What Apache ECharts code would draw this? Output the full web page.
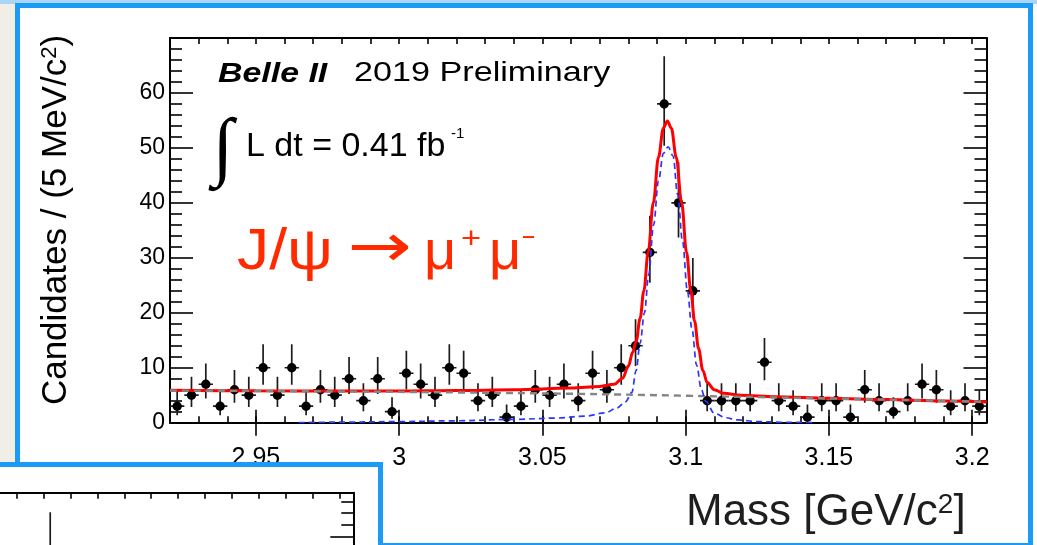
<!DOCTYPE html>
<html>
<head>
<meta charset="utf-8">
<title>Belle II J/psi to mu mu</title>
<script src="https://cdn.jsdelivr.net/npm/echarts@6/dist/echarts.min.js"></script>
<style>
  html, body { margin: 0; padding: 0; width: 1037px; height: 545px; overflow: hidden; background: #f1eee8; }
  #topband { position: absolute; left: 0; top: 0; width: 1037px; height: 4px; background: #a9d6f7; }
  #rightstrip { position: absolute; left: 1033px; top: 4px; width: 4px; height: 541px; background: #fbfbfb; }
  #frame { position: absolute; left: 15px; top: 3px; width: 1018px; height: 545px; box-sizing: border-box;
           border: 5px solid #1b9bf6; background: #ffffff; }
  #main { position: absolute; left: 0; top: 0; width: 1037px; height: 545px; }
  #panel { position: absolute; left: -10px; top: 462px; width: 393px; height: 110px; box-sizing: border-box;
           border: 5px solid #1b9bf6; background: #ffffff; overflow: hidden; }
  #panelChart { position: absolute; left: -445px; top: 0; width: 828px; height: 400px; }
</style>
</head>
<body>
<div id="topband"></div>
<div id="rightstrip"></div>
<div id="frame"></div>
<div id="main"></div>
<div id="panel"><div id="panelChart"></div></div>
<script>
// ---- dimuon invariant mass, 5 MeV/c^2 bins ----
const binCenters = [
  2.9225, 2.9275, 2.9325, 2.9375, 2.9425, 2.9475, 2.9525, 2.9575, 2.9625, 2.9675,
  2.9725, 2.9775, 2.9825, 2.9875, 2.9925, 2.9975, 3.0025, 3.0075, 3.0125, 3.0175,
  3.0225, 3.0275, 3.0325, 3.0375, 3.0425, 3.0475, 3.0525, 3.0575, 3.0625, 3.0675,
  3.0725, 3.0775, 3.0825, 3.0875, 3.0925, 3.0975, 3.1025, 3.1075, 3.1125, 3.1175,
  3.1225, 3.1275, 3.1325, 3.1375, 3.1425, 3.1475, 3.1525, 3.1575, 3.1625, 3.1675,
  3.1725, 3.1775, 3.1825, 3.1875, 3.1925, 3.1975, 3.2025
];
const candidates = [
  3, 5, 7, 3, 6, 5, 10, 5, 10, 3,
  6, 5, 8, 4, 8, 2, 9, 7, 5, 10,
  9, 4, 5, 1, 3, 6, 5, 7, 4, 9,
  6, 10, 14, 31, 58, 40, 24, 4, 4, 4,
  4, 11, 4, 3, 1, 4, 4, 1, 6, 4,
  2, 4, 7, 6, 3, 4, 3
];
const binHalfWidth = 0.0025;

// Poisson 68.3% central intervals for the bin contents that occur
const poissonN    = [1, 2, 3, 4, 5, 6, 7, 8, 9, 10, 11, 14, 24, 31, 40, 58];
const poissonLow  = [0.173, 0.708, 1.367, 2.086, 2.840, 3.620, 4.419, 5.232, 6.057, 6.891, 7.734, 10.30, 19.14, 25.47, 33.70, 50.41];
const poissonHigh = [3.300, 4.638, 5.918, 7.163, 8.382, 9.584, 10.77, 11.95, 13.11, 14.27, 15.42, 18.83, 29.97, 37.64, 47.38, 66.67];

// fitted model: total, signal and background components
const totalX = [2.92, 2.95, 2.98, 3.00, 3.02, 3.04, 3.06, 3.07, 3.075, 3.078, 3.080, 3.0815, 3.0827, 3.0841,
  3.0854, 3.0869, 3.0887, 3.0905, 3.0922, 3.0936, 3.095, 3.0967, 3.0986, 3.1003, 3.1018, 3.1031, 3.1045,
  3.106, 3.1075, 3.110, 3.1132, 3.1193, 3.1313, 3.15, 3.17, 3.19, 3.205];
const totalY = [5.9, 5.8, 5.75, 5.75, 5.85, 6.0, 6.3, 6.6, 7.0, 8.1, 10.3, 12.8, 14.8, 19.0,
  24.0, 31.0, 40.0, 48.3, 53.6, 54.9, 53.6, 48.3, 40.0, 31.0, 24.0, 18.5, 13.5,
  9.5, 7.3, 6.0, 5.35, 5.0, 4.7, 4.45, 4.2, 3.95, 3.75];
const signalX = [2.965, 2.98, 3.00, 3.02, 3.04, 3.055, 3.065, 3.072, 3.076, 3.079, 3.0812, 3.0827, 3.0841,
  3.0856, 3.0871, 3.0888, 3.0905, 3.0922, 3.0939, 3.0956, 3.0972, 3.0989, 3.1006, 3.1022, 3.1038,
  3.1055, 3.107, 3.110, 3.114, 3.118, 3.125, 3.135, 3.145];
const signalY = [0.02, 0.1, 0.2, 0.35, 0.6, 0.85, 1.2, 1.8, 2.7, 3.8, 5.5, 9.5, 14.5,
  20, 27, 36, 44, 49, 50.2, 48.5, 41.5, 33, 24, 17, 10.5,
  6, 3.9, 1.7, 0.9, 0.5, 0.2, 0.07, 0.02];
const backgroundX = [2.92, 2.96, 3.00, 3.04, 3.08, 3.12, 3.16, 3.205];
const backgroundY = [5.85, 5.75, 5.6, 5.4, 5.1, 4.7, 4.3, 3.8];

// axis ticks and labels
const xMinorTicks = [2.92, 2.93, 2.94, 2.95, 2.96, 2.97, 2.98, 2.99, 3.00, 3.01, 3.02, 3.03, 3.04, 3.05,
  3.06, 3.07, 3.08, 3.09, 3.10, 3.11, 3.12, 3.13, 3.14, 3.15, 3.16, 3.17, 3.18, 3.19, 3.20];
const xMajorTicks = [2.95, 3.00, 3.05, 3.10, 3.15, 3.20];
const xTickLabels = [2.95, 3.00, 3.05, 3.10, 3.15, 3.20];
const yTickLabels = [0, 10, 20, 30, 40, 50, 60];

// second mass panel (partly covered), only its peak bin reaches the visible strip
const panelCenters = [3.0925];
const panelCandidates = [37];
const panelLow = [30.95];
const panelHigh = [44.14];

const FONT = '"Liberation Sans", Arial, Helvetica, sans-serif';
const RED = '#ff2a00';

function errorRows(xs, ns, lows, highs) {
  return xs.map((x, i) => [x, ns[i], lows[i], highs[i]]);
}
const mainRows = errorRows(
  binCenters, candidates,
  candidates.map(n => poissonLow[poissonN.indexOf(n)]),
  candidates.map(n => poissonHigh[poissonN.indexOf(n)])
);

function renderPoint(params, api) {
  const x = api.value(0), n = api.value(1), lo = api.value(2), hi = api.value(3);
  const p = api.coord([x, n]);
  const pTop = api.coord([x, hi]);
  const pBot = api.coord([x, lo]);
  const pL = api.coord([x - binHalfWidth, n]);
  const pR = api.coord([x + binHalfWidth, n]);
  const ls = { stroke: '#1c1c1c', lineWidth: 1.7 };
  return {
    type: 'group',
    children: [
      { type: 'line', shape: { x1: p[0], y1: pBot[1], x2: p[0], y2: pTop[1] }, style: ls },
      { type: 'line', shape: { x1: pL[0], y1: p[1], x2: pR[0], y2: p[1] }, style: ls },
      { type: 'circle', shape: { cx: p[0], cy: p[1], r: 4.7 }, style: { fill: '#000' } }
    ]
  };
}

function pairs(xs, ys) { return xs.map((x, i) => [x, ys[i]]); }
const fmtMass = v => String(+(+v).toFixed(2));

function frameAxes(xMin, xMax, yMin, yMax, withLabels) {
  const black = { color: '#000', width: 2 };
  const tickStyle = { color: '#000', width: 1.6 };
  const xAxis = [
    { type: 'value', position: 'bottom', min: xMin, max: xMax,
      axisLine: { show: true, onZero: false, lineStyle: black },
      axisTick: { show: true, inside: true, length: 6.5, customValues: xMinorTicks, lineStyle: tickStyle },
      axisLabel: { show: withLabels, customValues: xTickLabels, formatter: fmtMass, margin: 23,
                   fontSize: 25, fontFamily: FONT, color: '#000', hideOverlap: false },
      splitLine: { show: false } },
    { type: 'value', position: 'bottom', min: xMin, max: xMax,
      axisLine: { show: false },
      axisTick: { show: true, inside: true, length: 13, customValues: xMajorTicks, lineStyle: tickStyle },
      axisLabel: { show: false }, splitLine: { show: false } },
    { type: 'value', position: 'top', min: xMin, max: xMax,
      axisLine: { show: true, onZero: false, lineStyle: black },
      axisTick: { show: true, inside: true, length: 6, customValues: xMinorTicks, lineStyle: tickStyle },
      axisLabel: { show: false }, splitLine: { show: false } },
    { type: 'value', position: 'top', min: xMin, max: xMax,
      axisLine: { show: false },
      axisTick: { show: true, inside: true, length: 13, customValues: xMajorTicks, lineStyle: tickStyle },
      axisLabel: { show: false }, splitLine: { show: false } }
  ];
  const yCommon = {
    type: 'value', min: yMin, max: yMax, interval: 10,
    axisLine: { show: true, onZero: false, lineStyle: black },
    axisTick: { show: true, inside: true, length: 23, lineStyle: tickStyle },
    minorTick: { show: true, splitNumber: 5, length: 12, lineStyle: tickStyle },
    splitLine: { show: false }, minorSplitLine: { show: false }
  };
  const yAxis = [
    Object.assign({}, yCommon, { position: 'left',
      axisLabel: { show: withLabels, customValues: yTickLabels, margin: 5, fontSize: 23,
                   fontFamily: FONT, color: '#000', hideOverlap: false } }),
    Object.assign({}, yCommon, { position: 'right', axisLabel: { show: false } })
  ];
  return { xAxis, yAxis };
}

// ---------- main spectrum ----------
const mainAxes = frameAxes(2.92, 3.205, 0, 70, true);
const main = echarts.init(document.getElementById('main'), null, { renderer: 'canvas' });
main.setOption({
  backgroundColor: 'transparent',
  animation: false,
  grid: { left: 170, top: 38, width: 816.5, height: 384.7, containLabel: false },
  xAxis: mainAxes.xAxis,
  yAxis: mainAxes.yAxis,
  series: [
    { name: 'Data', type: 'custom', xAxisIndex: 0, yAxisIndex: 0, z: 2,
      renderItem: renderPoint, data: mainRows, clip: true },
    { name: 'Total fit', type: 'line', xAxisIndex: 0, yAxisIndex: 0, z: 3,
      data: pairs(totalX, totalY), showSymbol: false, smooth: 0.35, smoothMonotone: 'x', clip: true,
      lineStyle: { color: '#ff0000', width: 3 } },
    { name: 'Background', type: 'line', xAxisIndex: 0, yAxisIndex: 0, z: 4,
      data: pairs(backgroundX, backgroundY), showSymbol: false, smooth: 0.3, clip: true,
      lineStyle: { color: '#858585', width: 2.4, type: [7, 5] } },
    { name: 'Signal', type: 'line', xAxisIndex: 0, yAxisIndex: 0, z: 5,
      data: pairs(signalX, signalY), showSymbol: false, smooth: 0.35, smoothMonotone: 'x', clip: true,
      lineStyle: { color: '#2a35ff', width: 1.7, type: [6, 4] } }
  ],
  graphic: [
    { type: 'text', x: 218, y: 74, scaleX: 1.21,
      style: { text: 'Belle II', font: 'italic bold 28px ' + FONT, fill: '#000', verticalAlign: 'middle' } },
    { type: 'text', x: 354, y: 73.5, scaleX: 1.22,
      style: { text: '2019 Preliminary', font: '28px ' + FONT, fill: '#000', verticalAlign: 'middle' } },
    { type: 'text', x: 223, y: 151,
      style: { text: '∫', font: 'bold 76px "Liberation Serif", "DejaVu Serif", serif', fill: '#000',
               align: 'center', verticalAlign: 'middle' } },
    { type: 'text', x: 246, y: 146.5,
      style: { text: 'L dt = 0.41 fb', font: '34px ' + FONT, fill: '#000', verticalAlign: 'middle' } },
    { type: 'text', x: 451, y: 133.5,
      style: { text: '-1', font: '15px ' + FONT, fill: '#000', verticalAlign: 'middle' } },
    // decay label
    { type: 'text', x: 237, y: 253, scaleX: 1.13,
      style: { text: 'J/ψ', font: '57px ' + FONT, fill: RED, verticalAlign: 'middle' } },
    { type: 'text', x: 380, y: 250, scaleX: 1.28,
      style: { text: '→', font: '60px "DejaVu Sans", sans-serif', fill: RED,
               align: 'center', verticalAlign: 'middle' } },
    { type: 'text', x: 424, y: 254,
      style: { text: 'μ', font: '56px ' + FONT, fill: RED, verticalAlign: 'middle' } },
    { type: 'text', x: 461, y: 240, scaleX: 1.15,
      style: { text: '+', font: '30px ' + FONT, fill: RED, verticalAlign: 'middle' } },
    { type: 'text', x: 489, y: 254,
      style: { text: 'μ', font: '56px ' + FONT, fill: RED, verticalAlign: 'middle' } },
    { type: 'text', x: 522, y: 239, scaleX: 0.85,
      style: { text: '−', font: '27px ' + FONT, fill: RED, verticalAlign: 'middle' } },
    // axis titles
    { type: 'text', x: 56, y: 220, rotation: Math.PI / 2,
      style: {
        text: 'Candidates / (5 MeV/c{sup|2})',
        font: '35px ' + FONT, fill: '#000', align: 'center', verticalAlign: 'middle', lineHeight: 35,
        rich: { sup: { fontSize: 22, fontFamily: FONT, lineHeight: 16, verticalAlign: 'top', fill: '#000' } }
      } },
    { type: 'text', x: 686, y: 513,
      style: {
        text: 'Mass [GeV/c{sup|2}]',
        font: '44px ' + FONT, fill: '#1e1e1e', verticalAlign: 'middle', lineHeight: 44,
        rich: { sup: { fontSize: 28, fontFamily: FONT, lineHeight: 15, verticalAlign: 'top', fill: '#1e1e1e' } }
      } }
  ]
});

// ---------- second, overlapping spectrum panel ----------
const panelAxes = frameAxes(2.92, 3.205, 0, 47.5, true);
const panel = echarts.init(document.getElementById('panelChart'), null, { renderer: 'canvas' });
panel.setOption({
  backgroundColor: 'transparent',
  animation: false,
  grid: { left: 35.5, top: 25.7, width: 767.8, height: 278, containLabel: false },
  xAxis: panelAxes.xAxis,
  yAxis: panelAxes.yAxis,
  series: [
    { name: 'Data', type: 'custom', xAxisIndex: 0, yAxisIndex: 0, z: 2,
      renderItem: renderPoint, data: errorRows(panelCenters, panelCandidates, panelLow, panelHigh), clip: true }
  ]
});
</script>
</body>
</html>
